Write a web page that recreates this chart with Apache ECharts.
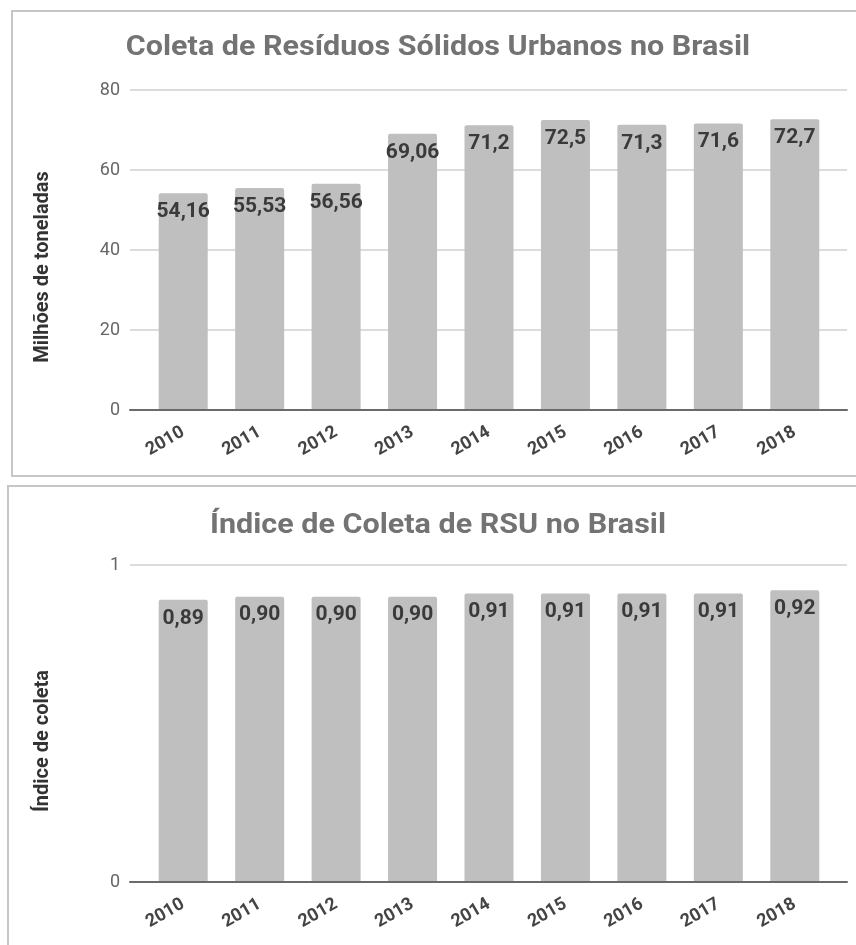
<!DOCTYPE html>
<html>
<head>
<meta charset="utf-8">
<script src="https://cdn.jsdelivr.net/npm/echarts@6/dist/echarts.min.js"></script>
<style>
html,body{margin:0;padding:0;background:#fff;}
#c{width:856px;height:945px;}
</style>
</head>
<body>
<div id="c"></div>
<script>
const categories = ['2010','2011','2012','2013','2014','2015','2016','2017','2018'];
const coleta = [54.16, 55.53, 56.56, 69.06, 71.2, 72.5, 71.3, 71.6, 72.7];
const indice = [0.89, 0.90, 0.90, 0.90, 0.91, 0.91, 0.91, 0.91, 0.92];
const titleTop = 'Coleta de Resíduos Sólidos Urbanos no Brasil';
const titleBottom = 'Índice de Coleta de RSU no Brasil';
const yNameTop = 'Milhões de toneladas';
const yNameBottom = 'Índice de coleta';

const FONT = 'Roboto';
const chart = echarts.init(document.getElementById('c'), null, {renderer:'canvas'});

function barGridAxes(gi, max) {
  return {
    x: {
      type: 'category', gridIndex: gi, data: categories,
      axisLine: {show: false}, axisTick: {show: false},
      axisLabel: {rotate: 30, margin: 21, fontFamily: FONT, fontSize: 18, fontWeight: 'bold', color: '#444'}
    },
    y: {type: 'value', gridIndex: gi, min: 0, max: max, show: false}
  };
}
function lineGridAxes(gi, max, interval) {
  return {
    x: {
      type: 'value', gridIndex: gi, min: 0, max: 1, z: 5,
      axisLine: {show: true, onZero: false, lineStyle: {color: '#6a6a6a', width: 2}},
      axisTick: {show: false}, axisLabel: {show: false}, splitLine: {show: false}
    },
    y: {
      type: 'value', gridIndex: gi, min: 0, max: max, interval: interval, z: 0,
      axisLine: {show: false}, axisTick: {show: false},
      axisLabel: {margin: 10, fontFamily: FONT, fontSize: 18, color: '#666'},
      splitLine: {lineStyle: {color: '#dcdcdc', width: 2}}
    }
  };
}
const a0 = barGridAxes(0, 80), a1 = lineGridAxes(1, 80, 20);
const a2 = barGridAxes(2, 1), a3 = lineGridAxes(3, 1, 1);

function labelCfg(fmt) {
  return {show: true, position: 'insideTop', distance: 8, fontFamily: FONT, fontSize: 21,
          fontWeight: 'bold', color: '#3a3a3a', formatter: fmt};
}

const option = {
  animation: false,
  backgroundColor: '#fff',
  grid: [
    {left: 145, right: 23, top: 90, height: 320},
    {left: 130, right: 9, top: 90, height: 320},
    {left: 145, right: 23, top: 565, height: 317},
    {left: 130, right: 9, top: 565, height: 317}
  ],
  xAxis: [a0.x, a1.x, a2.x, a3.x],
  yAxis: [a0.y, a1.y, a2.y, a3.y],
  series: [
    {type: 'bar', xAxisIndex: 0, yAxisIndex: 0, data: coleta, barWidth: 49, z: 2,
     itemStyle: {color: '#bfbfbf', borderRadius: [2,2,0,0]},
     label: labelCfg(p => String(p.value).replace('.', ','))},
    {type: 'bar', xAxisIndex: 2, yAxisIndex: 2, data: indice, barWidth: 49, z: 2,
     itemStyle: {color: '#bfbfbf', borderRadius: [2,2,0,0]},
     label: labelCfg(p => p.value.toFixed(2).replace('.', ','))}
  ],
  graphic: [
    {type: 'rect', z: -1, shape: {x: 12, y: 11, width: 860, height: 465},
     style: {fill: 'none', stroke: '#c6c6c6', lineWidth: 2}},
    {type: 'rect', z: -1, shape: {x: 8, y: 486, width: 870, height: 480},
     style: {fill: 'none', stroke: '#c6c6c6', lineWidth: 2}},
    {type: 'text', x: 438, y: 48, scaleX: 1.13,
     style: {text: titleTop, font: 'bold 27px Roboto', fill: '#737373', align: 'center', verticalAlign: 'middle'}},
    {type: 'text', x: 438, y: 526, scaleX: 1.13,
     style: {text: titleBottom, font: 'bold 27px Roboto', fill: '#737373', align: 'center', verticalAlign: 'middle'}},
    {type: 'text', x: 43, y: 267, rotation: Math.PI / 2,
     style: {text: yNameTop, font: 'bold 20px Roboto', fill: '#333', align: 'center', verticalAlign: 'middle'}},
    {type: 'text', x: 43, y: 741, rotation: Math.PI / 2,
     style: {text: yNameBottom, font: 'bold 20px Roboto', fill: '#333', align: 'center', verticalAlign: 'middle'}}
  ]
};
chart.setOption(option);
</script>
</body>
</html>
